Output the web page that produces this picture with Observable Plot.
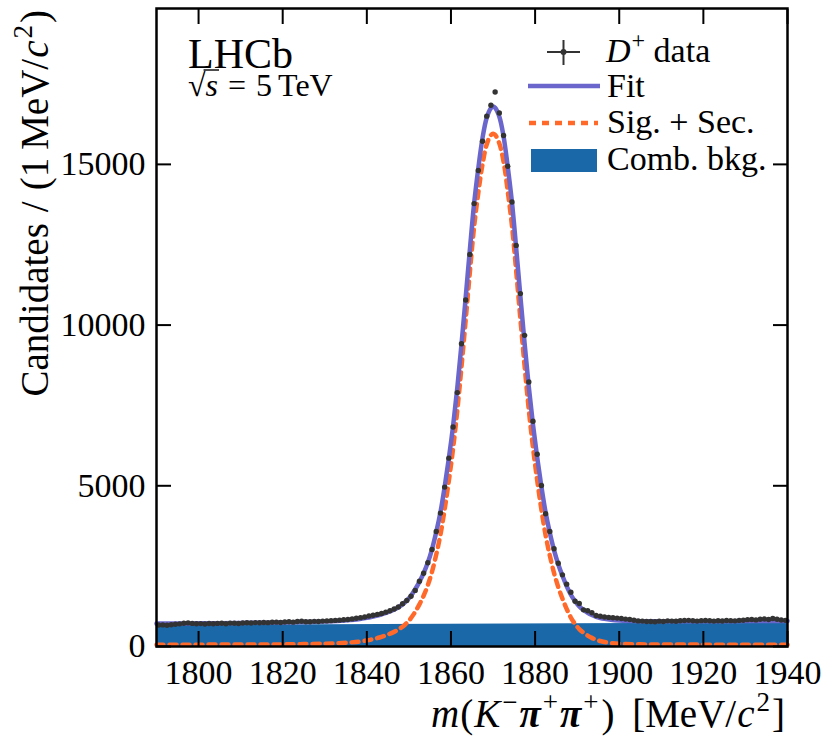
<!DOCTYPE html>
<html>
<head>
<meta charset="utf-8">
<script src="https://cdn.jsdelivr.net/npm/d3@7"></script>
<script src="https://cdn.jsdelivr.net/npm/@observablehq/plot@0.6"></script>
<style>
  html, body { margin: 0; padding: 0; background: white; }
  #chart { width: 831px; height: 746px; }
</style>
</head>
<body>
<div id="chart"></div>
<script>
// ---------- DATA ----------
const xTicks = [1800, 1820, 1840, 1860, 1880, 1900, 1920, 1940];
const yTicks = [0, 5000, 10000, 15000];

// bin centres (1 MeV bins)
const binCenters = [
  1790.5,1791.5,1792.5,1793.5,1794.5,1795.5,1796.5,1797.5,1798.5,1799.5,
  1800.5,1801.5,1802.5,1803.5,1804.5,1805.5,1806.5,1807.5,1808.5,1809.5,
  1810.5,1811.5,1812.5,1813.5,1814.5,1815.5,1816.5,1817.5,1818.5,1819.5,
  1820.5,1821.5,1822.5,1823.5,1824.5,1825.5,1826.5,1827.5,1828.5,1829.5,
  1830.5,1831.5,1832.5,1833.5,1834.5,1835.5,1836.5,1837.5,1838.5,1839.5,
  1840.5,1841.5,1842.5,1843.5,1844.5,1845.5,1846.5,1847.5,1848.5,1849.5,
  1850.5,1851.5,1852.5,1853.5,1854.5,1855.5,1856.5,1857.5,1858.5,1859.5,
  1860.5,1861.5,1862.5,1863.5,1864.5,1865.5,1866.5,1867.5,1868.5,1869.5,
  1870.5,1871.5,1872.5,1873.5,1874.5,1875.5,1876.5,1877.5,1878.5,1879.5,
  1880.5,1881.5,1882.5,1883.5,1884.5,1885.5,1886.5,1887.5,1888.5,1889.5,
  1890.5,1891.5,1892.5,1893.5,1894.5,1895.5,1896.5,1897.5,1898.5,1899.5,
  1900.5,1901.5,1902.5,1903.5,1904.5,1905.5,1906.5,1907.5,1908.5,1909.5,
  1910.5,1911.5,1912.5,1913.5,1914.5,1915.5,1916.5,1917.5,1918.5,1919.5,
  1920.5,1921.5,1922.5,1923.5,1924.5,1925.5,1926.5,1927.5,1928.5,1929.5,
  1930.5,1931.5,1932.5,1933.5,1934.5,1935.5,1936.5,1937.5,1938.5,1939.5
];
const candidates = [
  668,672,660,675,690,705,722,735,718,706,
  712,702,714,708,718,724,710,728,722,716,
  732,738,730,744,738,748,742,754,758,748,
  762,768,758,776,784,768,772,782,776,790,
  796,804,812,820,832,842,858,880,898,918,
  948,972,998,1028,1068,1110,1165,1228,1330,1430,
  1565,1745,2030,2280,2605,3020,3580,4150,4960,5860,
  6830,7900,9420,10780,12200,13780,14810,15720,16500,16840,
  17250,16600,15900,14940,13830,12480,10980,9680,8230,7010,
  5980,5010,4130,3580,3040,2590,2230,1940,1690,1410,
  1340,1140,1110,1050,965,940,918,905,896,884,
  872,852,840,818,796,790,780,776,770,788,
  780,798,790,784,800,808,814,800,790,804,
  810,800,790,800,794,808,804,798,812,818,
  836,842,828,846,856,842,870,848,824,814
];

// total fit curve
const fitX = [1790,1795,1800,1805,1810,1815,1820,1825,1830,1833,1836,1838,1840,1841,1842,1843,1844,1845,1846,1847,1848,1849,1850,
  1850.5,1851.5,1852.5,1853.5,1854.5,1855.5,1856.5,1857.5,1858.5,1859.5,1860.5,1861.5,1862.5,1863.5,1864.5,1865.5,1866.5,1867.5,1868.5,1869.5,
  1870,1870.5,1871.5,1872.5,1873.5,1874.5,1875.5,1876.5,1877.5,1878.5,1879.5,1880.5,1881.5,1882.5,1883.5,1884.5,1885.5,1886.5,1887.5,1888.5,1889.5,
  1890.5,1891.5,1892.5,1893.5,1894.5,1895.5,1896.5,1898,1900,1905,1910,1920,1930,1940];
const fitY = [712,716,722,727,733,740,748,760,778,795,822,850,890,915,945,980,1020,1065,1120,1185,1265,1370,1500,
  1580,1780,2010,2280,2610,3030,3560,4180,4970,5860,6860,8040,9400,10860,12360,13780,14880,15820,16450,16750,
  16800,16760,16480,15870,14920,13820,12400,10900,9440,8080,6900,5880,4970,4170,3540,3000,2560,2200,1880,1610,1410,
  1250,1140,1050,980,925,888,860,830,808,788,783,786,791,797];

// signal + secondary component
const sigX = fitX;
const sigY = [57,57,58,59,60,62,66,74,88,102,125,148,190,215,245,280,322,370,425,490,570,670,800,
  885,1080,1310,1580,1910,2330,2860,3480,4270,5160,6160,7340,8700,10160,11660,13060,14120,15000,15620,15910,
  15950,15920,15650,15090,14160,13090,11690,10190,8730,7370,6190,5170,4260,3460,2830,2290,1850,1490,1170,900,700,
  540,430,340,268,212,170,140,108,86,68,62,58,57,56];

// combinatorial background
const bkgX = [1790, 1940];
const bkgY = [660, 735];

// ---------- STYLE ----------
const FONT = "'Liberation Serif','Times New Roman',Times,serif";
const PURPLE = "#6a66cc";
const ORANGE = "#ff6a2b";
const BLUE = "#1b68a8";
const DARK = "#333333";

const pts = binCenters.map((x, i) => ({x, y: candidates[i]}));
const fit = fitX.map((x, i) => ({x, y: fitY[i]}));
const sig = sigX.map((x, i) => ({x, y: sigY[i]}));
const bkg = bkgX.map((x, i) => ({x, y: bkgY[i]}));

const plot = Plot.plot({
  width: 831,
  height: 746,
  marginLeft: 156,
  marginRight: 44,
  marginTop: 8,
  marginBottom: 100,
  x: {domain: [1790, 1940]},
  y: {domain: [0, 19850]},
  style: {fontFamily: FONT, fontSize: "33px", background: "white", color: "black", overflow: "visible"},
  marks: [
    Plot.areaY(bkg, {x: "x", y: "y", fill: BLUE}),
    Plot.line(sig, {x: "x", y: "y", stroke: ORANGE, strokeWidth: 4.5, strokeDasharray: "7,6", curve: "catmull-rom"}),
    Plot.line(fit, {x: "x", y: "y", stroke: PURPLE, strokeWidth: 4.5, curve: "catmull-rom"}),
    Plot.dot(pts, {x: "x", y: "y", r: 2.7, fill: DARK, stroke: null}),
    Plot.frame({stroke: "black", strokeWidth: 2.5}),
    Plot.axisX({ticks: xTicks, anchor: "bottom", tickSize: -15, tickPadding: 28, fontSize: 34, label: null, tickFormat: d => String(d), strokeWidth: 2}),
    Plot.axisX({ticks: xTicks, anchor: "top", tickSize: -15, label: null, tickFormat: () => "", strokeWidth: 2}),
    Plot.axisY({ticks: yTicks, anchor: "left", tickSize: -15, tickPadding: 26, fontSize: 34, label: null, tickFormat: d => String(d), strokeWidth: 2}),
    Plot.axisY({ticks: yTicks, anchor: "right", tickSize: -15, label: null, tickFormat: () => "", strokeWidth: 2})
  ]
});
document.getElementById("chart").appendChild(plot);

// ---------- TEXT & LEGEND ----------
const svg = d3.select(plot);
const g = svg.append("g").attr("font-family", FONT).attr("fill", "black").attr("text-anchor", "start");

function rich(sel, parts) {
  return parts.map(p => {
    const t = sel.append("tspan").text(p.t);
    if (p.i) t.attr("font-style", "italic");
    if (p.b) t.attr("font-weight", "bold");
    if (p.x != null) t.attr("x", p.x);
    if (p.dy) t.attr("dy", p.dy);
    if (p.dx) t.attr("dx", p.dx);
    if (p.fs) t.attr("font-size", p.fs);
    return t;
  });
}

// x-axis title
const xt = g.append("text").attr("x", 785).attr("y", 727).attr("text-anchor", "end").attr("font-size", 39);
rich(xt, [
  {t: "m", i: true}, {t: "(", dx: 1}, {t: "K", i: true, dx: 1},
  {t: "\u2212", fs: 27, dy: -16, dx: 2}, {t: "\u03c0", i: true, b: true, dy: 16, dx: 2},
  {t: "+", fs: 27, dy: -16, dx: 2}, {t: "\u03c0", i: true, b: true, dy: 16, dx: 2},
  {t: "+", fs: 27, dy: -16, dx: 2}, {t: ")", dy: 16, dx: 3}, {t: " [MeV/", dx: 8}, {t: "c", i: true, dx: 1},
  {t: "2", fs: 27, dy: -16, dx: 2}, {t: "]", dy: 16, dx: 2}
]);

// y-axis title
const yt = g.append("text").attr("transform", "translate(48,10) rotate(-90)").attr("text-anchor", "end").attr("font-size", 39);
rich(yt, [
  {t: "Candidates"}, {t: "/", dx: 11}, {t: "(1", dx: 11}, {t: "MeV/", dx: 8}, {t: "c", i: true, dx: 1},
  {t: "2", fs: 27, dy: -16, dx: 2}, {t: ")", dy: 16, dx: 2}
]);

// LHCb label + centre-of-mass energy (one text block)
const lab = g.append("text").attr("x", 188).attr("y", 68).attr("font-size", 42);
rich(lab, [
  {t: "LHCb"},
  {t: "\u221a", x: 188, dy: 28, fs: 32}, {t: "s", i: true, fs: 32},
  {t: "=", dx: 10, fs: 32}, {t: "5", dx: 10, fs: 32}, {t: "TeV", dx: 6, fs: 32}
]);
try {
  const node = lab.node();
  const rext = node.getExtentOfChar(4);
  const ext = node.getExtentOfChar(5);
  g.append("line").attr("x1", rext.x + rext.width - 2).attr("x2", ext.x + ext.width + 1)
    .attr("y1", rext.y + 3).attr("y2", rext.y + 3).attr("stroke", "black").attr("stroke-width", 1.4);
} catch (e) {}

// legend
const lg = g.append("g");
lg.append("line").attr("x1", 547).attr("x2", 580).attr("y1", 52).attr("y2", 52).attr("stroke", DARK).attr("stroke-width", 2);
lg.append("line").attr("x1", 563.5).attr("x2", 563.5).attr("y1", 40).attr("y2", 65).attr("stroke", DARK).attr("stroke-width", 2);
lg.append("circle").attr("cx", 563.5).attr("cy", 52).attr("r", 3).attr("fill", DARK);
const l1 = lg.append("text").attr("x", 606).attr("y", 62).attr("font-size", 34);
rich(l1, [{t: "D", i: true}, {t: "+", fs: 24, dy: -14, dx: 1}, {t: " data", dy: 14}]);
lg.append("line").attr("x1", 528).attr("x2", 600).attr("y1", 86).attr("y2", 86).attr("stroke", PURPLE).attr("stroke-width", 4.5);
lg.append("text").attr("x", 607).attr("y", 97).attr("font-size", 34).text("Fit");
lg.append("line").attr("x1", 529).attr("x2", 598).attr("y1", 123).attr("y2", 123).attr("stroke", ORANGE).attr("stroke-width", 4.5).attr("stroke-dasharray", "7,6");
lg.append("text").attr("x", 607).attr("y", 133).attr("font-size", 34).text("Sig. + Sec.");
lg.append("rect").attr("x", 531).attr("y", 149).attr("width", 66).attr("height", 23).attr("fill", BLUE);
lg.append("text").attr("x", 607).attr("y", 170).attr("font-size", 34).text("Comb. bkg.");
</script>
</body>
</html>
